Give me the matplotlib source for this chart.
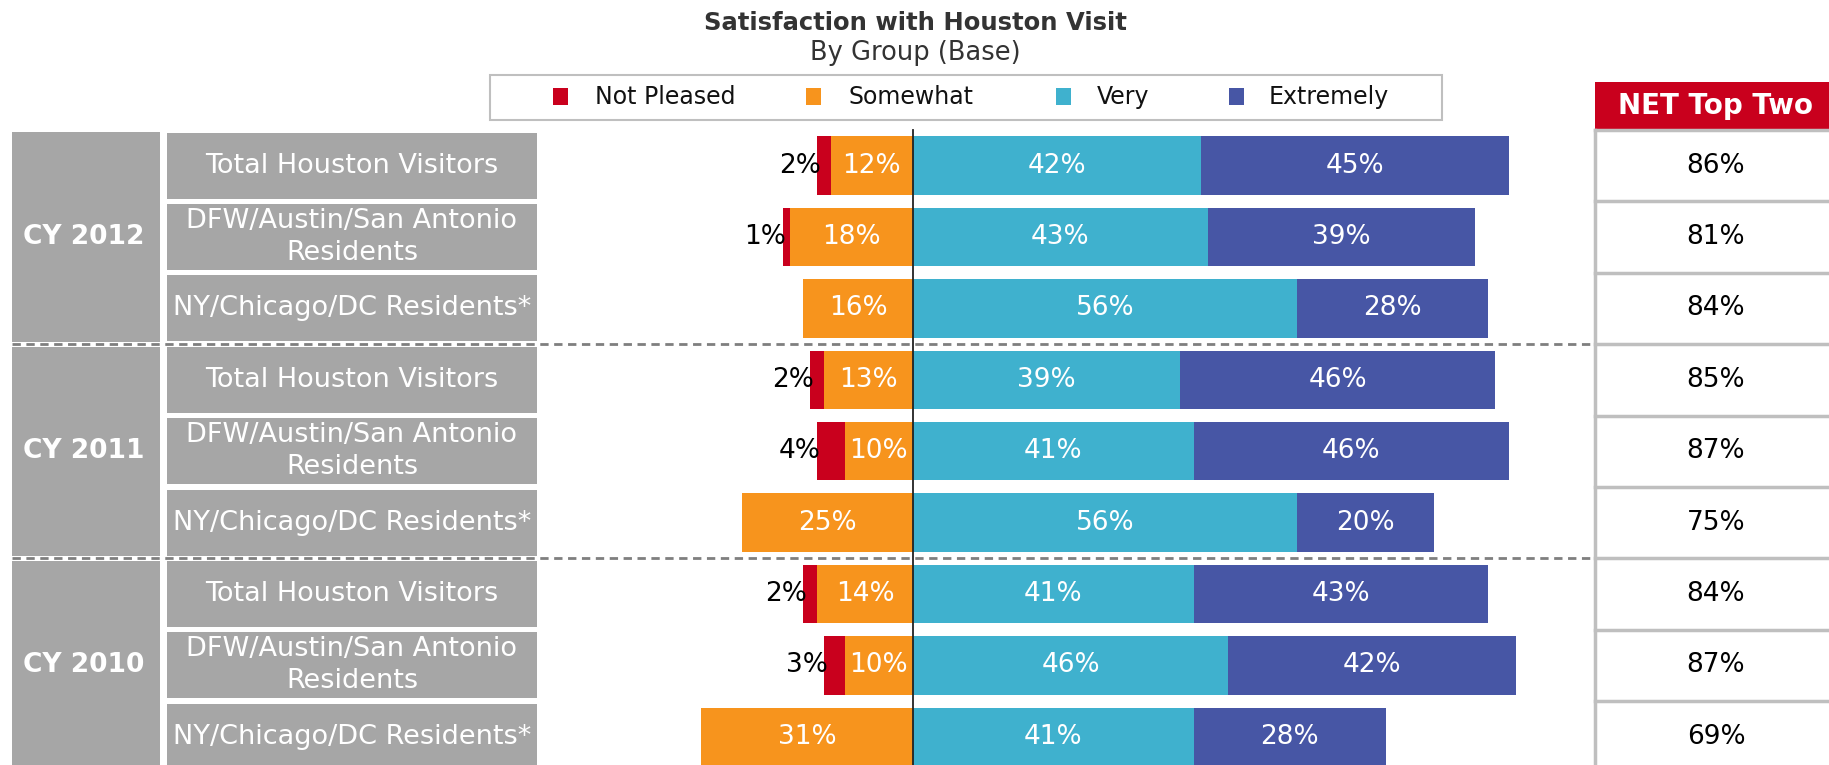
import numpy as np
import matplotlib
matplotlib.use("Agg")
import matplotlib.pyplot as plt
from matplotlib.patches import Rectangle
from matplotlib.transforms import blended_transform_factory

# data
groups = ["CY 2012", "CY 2011", "CY 2010"]
segments = ["Total Houston Visitors", "DFW/Austin/San Antonio\nResidents", "NY/Chicago/DC Residents*"]
categories = ["Not Pleased", "Somewhat", "Very", "Extremely"]
colors = ["#C9001D", "#F7941D", "#3FB1CE", "#4756A5"]

not_pleased = [2, 1, 0, 2, 4, 0, 2, 3, 0]
somewhat = [12, 18, 16, 13, 10, 25, 14, 10, 31]
very = [42, 43, 56, 39, 41, 56, 41, 46, 41]
extremely = [45, 39, 28, 46, 46, 20, 43, 42, 28]
net_top_two = [86, 81, 84, 85, 87, 75, 84, 87, 69]

W, H = 1829, 765
GREY = "#A6A6A6"
LINE = "#BFBFBF"

fig = plt.figure(figsize=(W / 100, H / 100), dpi=100)
ax = fig.add_axes([0, 0, 1, 1])

# layout in pixels: zero line position, pixels per percent, first row and row pitch
zero_px, px_per_pct = 913, 6.85
row0_px, pitch_px = 165.6, 71.4
ax.set_xlim(-zero_px / px_per_pct, (W - zero_px) / px_per_pct)
ax.set_ylim((H - row0_px) / pitch_px, -row0_px / pitch_px)
ax.axis("off")
y_bottom = ax.get_ylim()[0]

def px(x):
    return x / W

fx = blended_transform_factory(fig.transFigure, ax.transData)

rows = np.arange(len(somewhat))
npl = np.array(not_pleased)
so = np.array(somewhat)
ve = np.array(very)
ex = np.array(extremely)
bh = 0.82

ax.barh(rows, -so, height=bh, color=colors[1], label=categories[1])
ax.barh(rows, -npl, left=-so, height=bh, color=colors[0], label=categories[0])
ax.barh(rows, ve, height=bh, color=colors[2], label=categories[2])
ax.barh(rows, ex, left=ve, height=bh, color=colors[3], label=categories[3])

fs = 19
for r in rows:
    ax.text(-so[r] / 2, r, f"{so[r]}%", color="white", ha="center", va="center", fontsize=fs)
    ax.text(ve[r] / 2, r, f"{ve[r]}%", color="white", ha="center", va="center", fontsize=fs)
    ax.text(ve[r] + ex[r] / 2, r, f"{ex[r]}%", color="white", ha="center", va="center", fontsize=fs)
    if npl[r] > 0:
        ax.text(-(so[r] + npl[r]) + 0.5, r, f"{npl[r]}%", color="black", ha="right", va="center", fontsize=fs)

# left group / segment boxes
for g, name in enumerate(groups):
    first = 3 * g
    ax.add_patch(Rectangle((px(12), first - 0.465), px(160) - px(12), 2.93,
                           transform=fx, color=GREY, lw=0))
    ax.text(px(84), first + 1, name, transform=fx, ha="center", va="center",
            color="white", fontsize=fs, fontweight="bold")
    for k, seg in enumerate(segments):
        r = first + k
        ax.add_patch(Rectangle((px(167), r - 0.462), px(537) - px(167), 0.924,
                               transform=fx, color=GREY, lw=0))
        ax.text(px(352), r, seg, transform=fx, ha="center", va="center",
                color="white", fontsize=19.5, linespacing=1.3)

# dashed separators between years
for yy in [2.5, 5.5]:
    ax.plot([px(12), px(1595)], [yy, yy], transform=fx, color="#7F7F7F",
            lw=2, ls=(0, (3, 2)), clip_on=False)

# zero line
ax.plot([0, 0], [-0.5, y_bottom], color="#222222", lw=1.3)

# NET Top Two column
ax.add_patch(Rectangle((px(1595), -1.17), px(W) - px(1595), 0.67,
                       transform=fx, color=colors[0], lw=0))
ax.text(px(1716), -0.83, "NET Top Two", transform=fx, ha="center", va="center",
        color="white", fontsize=20, fontweight="bold")
ax.plot([px(1595), px(1595)], [-0.5, y_bottom], transform=fx, color=LINE, lw=2.5)
for i in range(len(net_top_two) + 1):
    ax.plot([px(1595), px(W)], [i - 0.5, i - 0.5], transform=fx, color=LINE, lw=2.5)
for r, v in enumerate(net_top_two):
    ax.text(px(1716), r, f"{v}%", transform=fx, ha="center", va="center",
            color="black", fontsize=fs)

# title
fig.text(px(915), 1 - 23 / H, "Satisfaction with Houston Visit", ha="center", va="center",
         fontsize=17.5, fontweight="bold", color="#333333")
fig.text(px(915), 1 - 53 / H, "By Group (Base)", ha="center", va="center",
         fontsize=18.5, color="#333333")

# legend box
fig.add_artist(Rectangle((px(490), 1 - 120 / H), px(1442) - px(490), 45 / H,
                         transform=fig.transFigure, fill=False, ec=LINE, lw=1.5))
marker_x = [553, 806, 1056, 1229]
text_x = [595, 848, 1097, 1269]
for cat, col, mx, tx in zip(categories, colors, marker_x, text_x):
    fig.add_artist(Rectangle((px(mx), 1 - 105 / H), px(15), 17 / H,
                             transform=fig.transFigure, color=col, lw=0))
    fig.text(px(tx), 1 - 97 / H, cat, ha="left", va="center", fontsize=17, color="#111111")

fig.savefig("out.png", dpi=100)
